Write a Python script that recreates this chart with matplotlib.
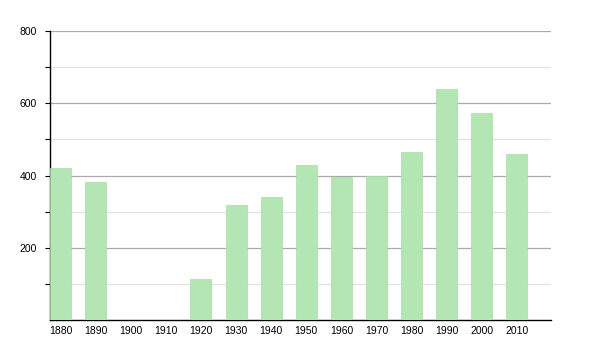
import matplotlib
matplotlib.use("Agg")
import matplotlib.pyplot as plt
import numpy as np

years = ["1880", "1890", "1900", "1910", "1920", "1930", "1940", "1950",
         "1960", "1970", "1980", "1990", "2000", "2010"]
population = [420, 382, 0, 0, 113, 318, 340, 429, 396, 399, 465, 639, 573, 459]
major_ticks = [200, 400, 600, 800]
minor_ticks = [100, 300, 500, 700]

plt.rcParams['font.family'] = ['Liberation Sans', 'DejaVu Sans']
fig = plt.figure(figsize=(6, 3.5), dpi=100)
ax = fig.add_axes([50/600, 1 - 320/350, 501/600, 289/350])

x = np.arange(len(years))
ax.bar(x, population, width=0.6, color='#b3e6b3', edgecolor='#a8dca8', linewidth=0.5, zorder=3)

ax.set_ylim(0, 800)
ax.set_xlim(-0.3, (501/35.1) - 0.3)

ax.set_yticks(major_ticks)
ax.set_yticks(minor_ticks, minor=True)
ax.set_yticklabels([str(v) for v in major_ticks], fontsize=7.5)
for v in major_ticks:
    ax.axhline(v, color='#aaaaaa', linewidth=0.9, zorder=1)
for v in minor_ticks:
    ax.axhline(v, color='#e2e2e2', linewidth=0.9, zorder=1)

ax.set_xticks(x)
ax.set_xticklabels(years, fontsize=7.5)
ax.tick_params(axis='x', length=0, pad=4)
ax.tick_params(axis='y', which='both', length=3.6, width=0.8, direction='out', pad=5.8)

for s in ['top', 'right']:
    ax.spines[s].set_visible(False)
ax.spines['left'].set_linewidth(1)
ax.spines['bottom'].set_linewidth(1)

fig.savefig("out.png", dpi=100)
